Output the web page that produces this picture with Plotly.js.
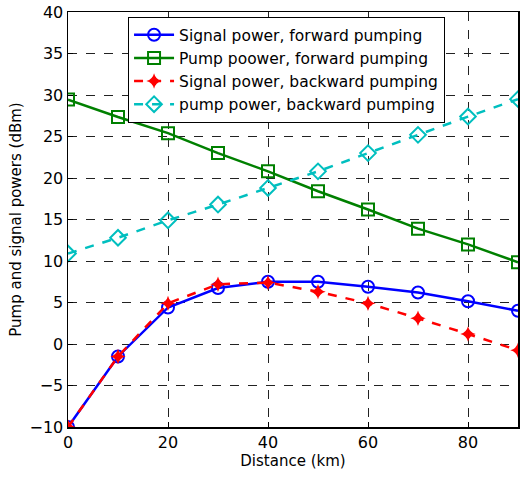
<!DOCTYPE html>
<html><head><meta charset="utf-8">
<script src="https://cdn.plot.ly/plotly-3.0.1.min.js"></script>
<style>html,body{margin:0;padding:0;background:#fff}#chart{width:520px;height:477px}</style>
</head><body><div id="chart"></div>
<script>
const distance = [0,10,20,30,40,50,60,70,80,90];
const signalForward = [-10,-1.5,4.4,6.75,7.5,7.5,6.9,6.2,5.15,4.0];
const pumpForward = [29.45,27.35,25.4,23.0,20.8,18.4,16.2,13.9,12.0,9.85];
const signalBackward = [-10,-1.5,4.9,7.2,7.4,6.3,4.9,3.1,1.2,-0.75];
const pumpBackward = [10.9,12.8,14.9,16.8,18.8,20.8,23.0,25.2,27.4,29.5];
const names = ['Signal power, forward pumping','Pump poower, forward pumping','Signal power, backward pumping','pump power, backward pumping'];

const traces = [
 {x:distance,y:signalForward,name:names[0],mode:'lines+markers',line:{color:'#0000ff',width:2.5},marker:{symbol:'circle-open',size:12,color:'#0000ff',line:{width:2}}},
 {x:distance,y:pumpForward,name:names[1],mode:'lines+markers',line:{color:'#008000',width:2.5},marker:{symbol:'square-open',size:12,color:'#008000',line:{width:2}}},
 {x:distance,y:signalBackward,name:names[2],mode:'lines+markers',line:{color:'#ff0000',width:2.5,dash:'dash'},marker:{symbol:'star-diamond',size:11,color:'#ff0000'}},
 {x:distance,y:pumpBackward,name:names[3],mode:'lines+markers',line:{color:'#00bfbf',width:2.5,dash:'dash'},marker:{symbol:'diamond-open',size:12,color:'#00bfbf',line:{width:2}}}
];
const ax = {showline:true,mirror:true,linecolor:'#000',linewidth:1.5,ticks:'inside',ticklen:5,tickcolor:'#000',
  showgrid:true,gridcolor:'#222',griddash:'dash',gridwidth:1,zeroline:false,
  tickfont:{family:'DejaVu Sans',size:16,color:'#000'}};
const layout = {
 width:520,height:477,paper_bgcolor:'#fff',plot_bgcolor:'#fff',
 margin:{l:68,r:2,t:12,b:50},
 font:{family:'DejaVu Sans',color:'#000'},
 xaxis:Object.assign({},ax,{range:[0,90],tickvals:[0,20,40,60,80],title:{text:'Distance (km)',font:{size:15},standoff:2}}),
 yaxis:Object.assign({},ax,{range:[-10,40],dtick:5,title:{text:'Pump and signal powers (dBm)',font:{size:15},standoff:4}}),
 legend:{x:0.133,y:0.988,xanchor:'left',yanchor:'top',bgcolor:'#fff',bordercolor:'#000',borderwidth:1.2,font:{size:15.5,family:'DejaVu Sans'},tracegroupgap:0,itemwidth:40},
 showlegend:true
};
Plotly.newPlot('chart',traces,layout,{displayModeBar:false,staticPlot:true});
</script></body></html>
